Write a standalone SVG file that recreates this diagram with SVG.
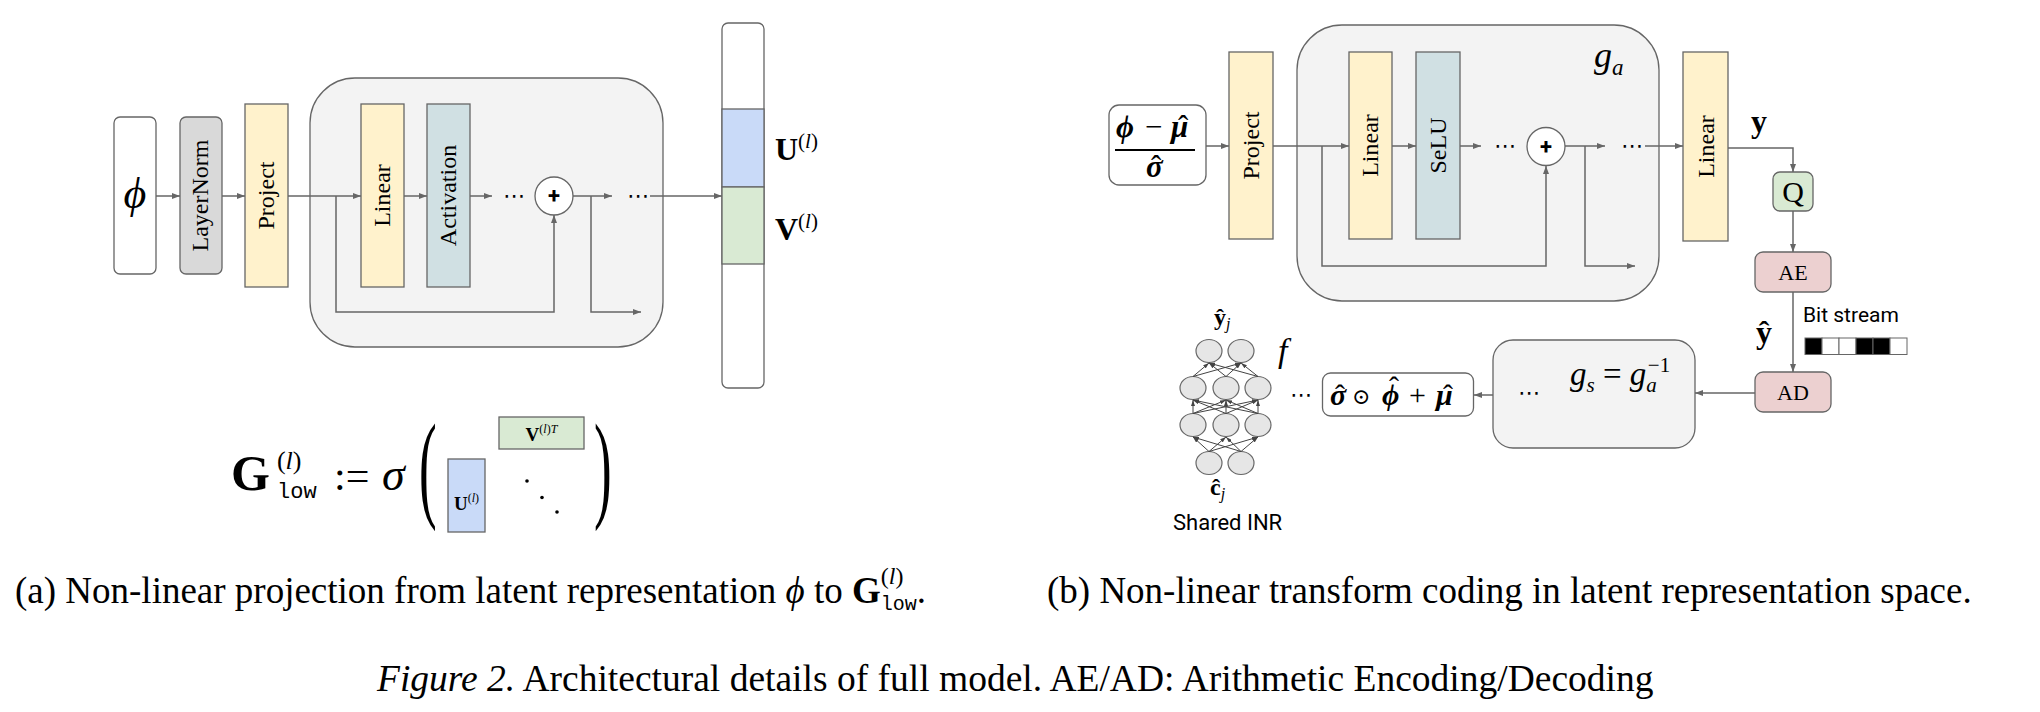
<svg xmlns="http://www.w3.org/2000/svg" width="2040" height="712" viewBox="0 0 2040 712">
<defs>
<marker id="ah" viewBox="0 0 8 6" refX="8" refY="3" markerWidth="8" markerHeight="6" markerUnits="userSpaceOnUse" orient="auto"><path d="M0,0 L8,3 L0,6 z" fill="#666"/></marker>
<marker id="sa" viewBox="0 0 6 4" refX="6" refY="2" markerWidth="6" markerHeight="4" markerUnits="userSpaceOnUse" orient="auto"><path d="M0,0 L6,2 L0,4 z" fill="#444"/></marker>
<style>
.bx{stroke:#666;stroke-width:1.3}
.w{fill:#fff}.gr{fill:#d9d9d9}.yl{fill:#fff2cc}.cy{fill:#d0e0e3}.lg{fill:#f3f3f3}.bl{fill:#c9daf8}.gn{fill:#d9ead3}.pk{fill:#ecd0d0}
.c{fill:none;stroke:#666;stroke-width:1.5;marker-end:url(#ah)}
.l{fill:none;stroke:#666;stroke-width:1.5}
.nn{fill:none;stroke:#444;stroke-width:1;marker-end:url(#sa)}
.nd{fill:#e6e6e6;stroke:#666;stroke-width:1.2}
text{font-family:"Liberation Serif","DejaVu Serif",serif;fill:#000}
.vt{font-size:24px;text-anchor:middle}
.it{font-style:italic}
.bd{font-weight:bold}
.bi{font-weight:bold;font-style:italic}
.mono{font-family:"Liberation Mono","DejaVu Sans Mono",monospace}
.sans{font-family:Roboto,"Liberation Sans",sans-serif}
.dots{font-family:"DejaVu Sans",sans-serif;font-size:22px}
.cap{font-size:37px}
</style>
</defs>

<!-- (a) nodes -->
<g id="a-phi"><rect class="bx w" x="114" y="117" width="42" height="157" rx="6"/><text x="135" y="208" font-size="44" class="it" text-anchor="middle">ϕ</text></g>
<g id="a-layernorm"><rect class="bx gr" x="180" y="117" width="42" height="157" rx="6"/><text class="vt" transform="translate(208,195.5) rotate(-90)">LayerNorm</text></g>
<g id="a-project"><rect class="bx yl" x="245" y="104" width="43" height="183"/><text class="vt" transform="translate(273.5,195.5) rotate(-90)">Project</text></g>
<g id="a-block"><rect class="bx lg" x="310" y="78" width="353" height="269" rx="45"/>
<text class="dots" x="503" y="203">⋯</text><text class="dots" x="627" y="203">⋯</text></g>
<g id="a-linear"><rect class="bx yl" x="361" y="104" width="43" height="183"/><text class="vt" transform="translate(390,195.5) rotate(-90)">Linear</text></g>
<g id="a-activation"><rect class="bx cy" x="427" y="104" width="43" height="183"/><text class="vt" transform="translate(456,195.5) rotate(-90)">Activation</text></g>
<g id="a-plus"><circle class="bx w" cx="554" cy="196" r="19"/><text x="554" y="203" font-size="22" font-weight="bold" text-anchor="middle" class="sans">+</text></g>
<g id="a-column"><rect class="bx w" x="722" y="23" width="42" height="365" rx="6"/><rect class="bx bl" x="722" y="109" width="42" height="78"/><rect class="bx gn" x="722" y="187" width="42" height="77"/>
<text x="775" y="160" font-size="32" class="bd">U<tspan font-size="21" font-weight="normal" dy="-12">(<tspan class="it">l</tspan>)</tspan></text>
<text x="775" y="240" font-size="32" class="bd">V<tspan font-size="21" font-weight="normal" dy="-12">(<tspan class="it">l</tspan>)</tspan></text></g>

<g id="a-formula">
<text x="231" y="490" font-size="50" class="bd">G<tspan font-size="26" font-weight="normal" dx="7" dy="-21">(<tspan class="it">l</tspan>)</tspan><tspan class="mono" font-weight="normal" font-size="22" dx="-24.5" dy="29">low</tspan></text>
<text x="334" y="490" font-size="42">:=</text>
<text x="382" y="490" font-size="46" class="it">σ</text>
<text transform="translate(419,506) scale(0.45,1)" font-size="118">(</text>
<text transform="translate(594,506) scale(0.45,1)" font-size="118">)</text>
<rect class="bx bl" x="448" y="459" width="37" height="73"/>
<text x="466.5" y="510" font-size="19" class="bd" text-anchor="middle">U<tspan font-size="12" font-weight="normal" dy="-8">(<tspan class="it">l</tspan>)</tspan></text>
<rect class="bx gn" x="499" y="417" width="85" height="32"/>
<text x="541.5" y="441" font-size="19" class="bd" text-anchor="middle">V<tspan font-size="12" font-weight="normal" dy="-8">(<tspan class="it">l</tspan>)<tspan class="it">T</tspan></tspan></text>
<circle cx="527" cy="481" r="1.8"/><circle cx="542" cy="497.5" r="1.8"/><circle cx="557" cy="512" r="1.8"/>
</g>

<!-- (b) nodes -->
<g id="b-input"><rect class="bx w" x="1109" y="105" width="97" height="80" rx="10"/>
<text y="137" font-size="31"><tspan class="bi" x="1116">ϕ</tspan><tspan x="1145">−</tspan><tspan class="bi" x="1171">μ</tspan><tspan x="1178">ˆ</tspan></text>
<line x1="1115" y1="150" x2="1195" y2="150" stroke="#000" stroke-width="2"/>
<text y="177" font-size="31"><tspan class="bi" x="1146">σ</tspan><tspan x="1151">ˆ</tspan></text>
</g>
<g id="b-project"><rect class="bx yl" x="1229" y="52" width="44" height="187"/><text class="vt" transform="translate(1259,145.5) rotate(-90)">Project</text></g>
<g id="b-ga"><rect class="bx lg" x="1297" y="25" width="362" height="276" rx="45"/>
<text class="dots" x="1494" y="153">⋯</text><text class="dots" x="1621" y="153">⋯</text>
<text x="1594" y="67" font-size="36" class="it">g<tspan font-size="23" dy="8">a</tspan></text></g>
<g id="b-linear1"><rect class="bx yl" x="1349" y="52" width="43" height="187"/><text class="vt" transform="translate(1378,145.5) rotate(-90)">Linear</text></g>
<g id="b-selu"><rect class="bx cy" x="1416" y="52" width="44" height="187"/><text class="vt" transform="translate(1446,145.5) rotate(-90)">SeLU</text></g>
<g id="b-plus"><circle class="bx w" cx="1546" cy="146.5" r="19"/><text x="1546" y="154" font-size="22" font-weight="bold" text-anchor="middle" class="sans">+</text></g>
<g id="b-linear2"><rect class="bx yl" x="1683" y="52" width="45" height="189"/><text class="vt" transform="translate(1713.5,146.5) rotate(-90)">Linear</text></g>
<text id="lbl-y" x="1751" y="132" font-size="32" class="bd">y</text>
<g id="b-q"><rect class="bx gn" x="1773" y="172" width="40" height="39" rx="7"/><text x="1793" y="202" font-size="30" text-anchor="middle">Q</text></g>
<g id="b-ae"><rect class="bx pk" x="1755" y="252" width="76" height="40" rx="8"/><text x="1793" y="280" font-size="22" text-anchor="middle">AE</text></g>
<text id="lbl-yhat" x="1756" y="343" font-size="32" class="bd">ŷ</text>
<g id="b-bits">
<text x="1803" y="322" font-size="21" class="sans">Bit stream</text>
<g stroke="#666" stroke-width="1">
<rect x="1805" y="338" width="17" height="16.5" fill="#000"/><rect x="1822" y="338" width="17" height="16.5" fill="#fff"/><rect x="1839" y="338" width="17" height="16.5" fill="#fff"/><rect x="1856" y="338" width="17" height="16.5" fill="#000"/><rect x="1873" y="338" width="17" height="16.5" fill="#000"/><rect x="1890" y="338" width="17" height="16.5" fill="#fff"/>
</g></g>
<g id="b-ad"><rect class="bx pk" x="1755" y="372" width="76" height="40" rx="8"/><text x="1793" y="400" font-size="22" text-anchor="middle">AD</text></g>
<g id="b-gs"><rect class="bx lg" x="1493" y="340" width="202" height="108" rx="20"/>
<text class="dots" x="1518" y="400">⋯</text>
<text x="1570" y="385" font-size="33" class="it">g<tspan font-size="21" dy="7">s</tspan><tspan font-style="normal" dy="-7"> = </tspan>g<tspan font-size="21" dy="7">a</tspan><tspan font-size="21" font-style="normal" dx="-9" dy="-20">−1</tspan></text>
</g>
<g id="b-denorm"><rect class="bx w" x="1322.5" y="373" width="151" height="43" rx="8"/>
<text y="405" font-size="30"><tspan class="bi" x="1330">σ</tspan><tspan x="1335">ˆ</tspan><tspan x="1352" dy="-1" font-size="22" style="font-family:'DejaVu Serif',serif">⊙</tspan><tspan class="bi" x="1382" dy="1">ϕ</tspan><tspan x="1389" dy="-8">ˆ</tspan><tspan x="1409" dy="8">+</tspan><tspan class="bi" x="1436">μ</tspan><tspan x="1443">ˆ</tspan></text>
</g>
<text class="dots" x="1290" y="402">⋯</text>
<text id="lbl-f" x="1278" y="362" font-size="34" class="it">f</text>
<g id="b-inr">
<ellipse class="nd" cx="1209" cy="351" rx="13" ry="11.5"/><ellipse class="nd" cx="1241" cy="351" rx="13" ry="11.5"/>
<ellipse class="nd" cx="1193" cy="388" rx="13" ry="11.5"/><ellipse class="nd" cx="1226" cy="388" rx="13" ry="11.5"/><ellipse class="nd" cx="1258" cy="388" rx="13" ry="11.5"/>
<ellipse class="nd" cx="1193" cy="425" rx="13" ry="11.5"/><ellipse class="nd" cx="1226" cy="425" rx="13" ry="11.5"/><ellipse class="nd" cx="1258" cy="425" rx="13" ry="11.5"/>
<ellipse class="nd" cx="1209" cy="463" rx="13" ry="11.5"/><ellipse class="nd" cx="1241" cy="463" rx="13" ry="11.5"/>
<text x="1214" y="325" font-size="24" class="bd">ŷ<tspan font-size="16" font-weight="normal" class="it" dy="4">j</tspan></text>
<text x="1210" y="495" font-size="24" class="bd">ĉ<tspan font-size="16" font-weight="normal" class="it" dy="4">j</tspan></text>
<text x="1173" y="530" font-size="22" class="sans">Shared INR</text>
</g>

<!-- connectors -->
<g id="connectors">
<path class="c" d="M156,196 H180"/>
<path class="c" d="M222,196 H245"/>
<path class="c" d="M288,196 H361"/>
<path class="c" d="M404,196 H427"/>
<path class="c" d="M470,196 H492"/>
<path class="c" d="M573,196 H612"/>
<path class="c" d="M663,196 H722"/>
<path class="l" d="M650,196 H663"/>
<path class="c" d="M336,196 V312 H554 V215"/>
<path class="c" d="M591,196 V312 H641"/>

<path class="c" d="M1206,146 H1229"/>
<path class="c" d="M1273,146 H1349"/>
<path class="c" d="M1392,146 H1416"/>
<path class="c" d="M1460,146 H1481"/>
<path class="c" d="M1565,146 H1605"/>
<path class="l" d="M1645,146 H1659"/>
<path class="c" d="M1659,146 H1683"/>
<path class="c" d="M1322,146 V266 H1546 V166"/>
<path class="c" d="M1585,146 V266 H1635"/>
<path class="c" d="M1728,148 H1793 V172"/>
<path class="c" d="M1793,211 V252"/>
<path class="c" d="M1793,292 V372"/>
<path class="c" d="M1755,393 H1695"/>
<path class="c" d="M1493,395 H1474"/>

<path class="nn" d="M1209,451.5 L1193,437"/><path class="nn" d="M1209,451.5 L1226,437"/><path class="nn" d="M1209,451.5 L1258,437"/>
<path class="nn" d="M1241,451.5 L1193,437"/><path class="nn" d="M1241,451.5 L1226,437"/><path class="nn" d="M1241,451.5 L1258,437"/>
<path class="nn" d="M1193,413.5 L1193,400"/><path class="nn" d="M1193,413.5 L1226,400"/><path class="nn" d="M1193,413.5 L1258,400"/>
<path class="nn" d="M1226,413.5 L1193,400"/><path class="nn" d="M1226,413.5 L1226,400"/><path class="nn" d="M1226,413.5 L1258,400"/>
<path class="nn" d="M1258,413.5 L1193,400"/><path class="nn" d="M1258,413.5 L1226,400"/><path class="nn" d="M1258,413.5 L1258,400"/>
<path class="nn" d="M1193,376.5 L1209,363"/><path class="nn" d="M1193,376.5 L1241,363"/>
<path class="nn" d="M1226,376.5 L1209,363"/><path class="nn" d="M1226,376.5 L1241,363"/>
<path class="nn" d="M1258,376.5 L1209,363"/><path class="nn" d="M1258,376.5 L1241,363"/>
</g>

<!-- captions -->
<text class="cap" x="15" y="603">(a) Non-linear projection from latent representation <tspan class="it">ϕ</tspan> to <tspan class="bd">G</tspan><tspan font-size="24" dy="-19">(<tspan class="it">l</tspan>)</tspan><tspan class="mono" font-size="20" dx="-22.7" dy="26">low</tspan><tspan dy="-7">.</tspan></text>
<text class="cap" x="1047" y="603">(b) Non-linear transform coding in latent representation space.</text>
<text class="cap" x="377" y="691" style="font-size:37.5px"><tspan class="it">Figure 2.</tspan> Architectural details of full model. AE/AD: Arithmetic Encoding/Decoding</text>
</svg>
